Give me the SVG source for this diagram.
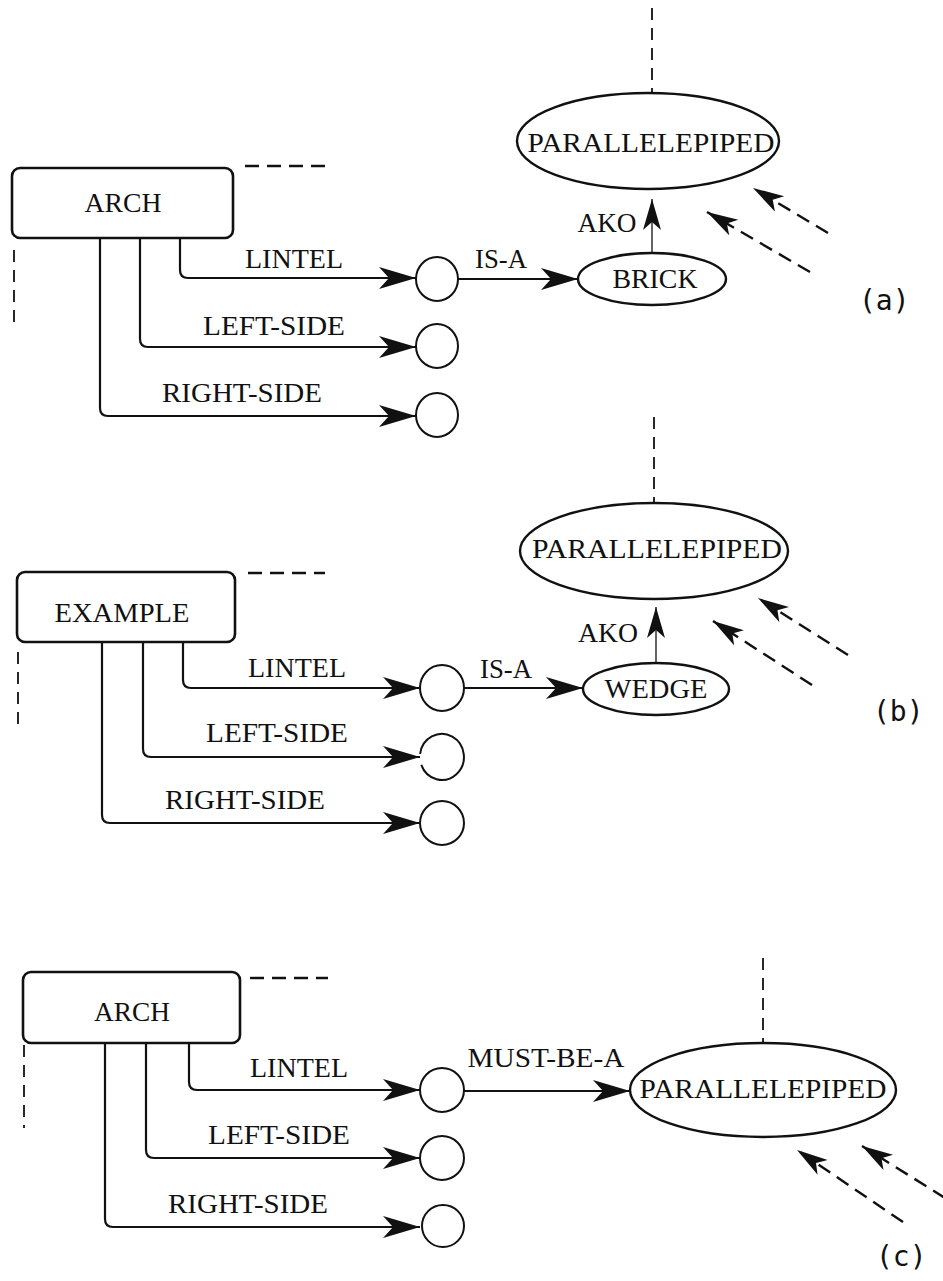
<svg xmlns="http://www.w3.org/2000/svg" width="943" height="1281" viewBox="0 0 943 1281">
<style>
.t{font-family:"Liberation Serif","Times New Roman",serif;font-size:27px;fill:#111;text-anchor:middle}
.lbl{font-family:"DejaVu Sans Mono","Liberation Mono",monospace;font-size:28px;fill:#111}
.box{fill:#fff;stroke:#111;stroke-width:2.6}
.ell{fill:#fff;stroke:#111;stroke-width:2.4}
.cir{fill:#fff;stroke:#111;stroke-width:2}
.con{fill:none;stroke:#111;stroke-width:2.2}
.thin{fill:none;stroke:#111;stroke-width:1.3}
.dash{fill:none;stroke:#111;stroke-width:2.4;stroke-dasharray:14 8}
.dashv{fill:none;stroke:#111;stroke-width:1.8;stroke-dasharray:12 8}
</style>
<defs>
<marker id="ah" markerWidth="40" markerHeight="24" refX="37" refY="11" orient="auto" markerUnits="userSpaceOnUse"><path d="M0,0 L37,11 L0,22 L10,11 Z" fill="#111"/></marker>
<marker id="ah2" markerWidth="34" markerHeight="22" refX="31" refY="9" orient="auto" markerUnits="userSpaceOnUse"><path d="M0,0 L31,9 L0,18 L8,9 Z" fill="#111"/></marker>
</defs>
<rect width="943" height="1281" fill="#fff"/>

<g id="connectors">
<!-- panel a -->
<line class="dash" x1="245" y1="166" x2="325" y2="166"/>
<line class="dashv" x1="14" y1="250" x2="14" y2="328"/>
<line class="dashv" x1="652" y1="8" x2="652" y2="92"/>
<path class="con" d="M180,238 V270 Q180,278 188,278 H416" marker-end="url(#ah)"/>
<path class="con" d="M140,238 V339 Q140,347 148,347 H416" marker-end="url(#ah)"/>
<path class="con" d="M100,238 V408 Q100,416 108,416 H416" marker-end="url(#ah)"/>
<line class="con" x1="458" y1="279" x2="578" y2="279" marker-end="url(#ah)"/>
<line class="thin" x1="652" y1="253" x2="652" y2="199" marker-end="url(#ah2)"/>
<line class="dash" x1="828" y1="233" x2="753" y2="188" marker-end="url(#ah2)"/>
<line class="dash" x1="810" y1="272" x2="707" y2="212" marker-end="url(#ah2)"/>
<!-- panel b -->
<line class="dash" x1="248" y1="573" x2="325" y2="573"/>
<line class="dashv" x1="18" y1="652" x2="18" y2="732"/>
<line class="dashv" x1="654" y1="417" x2="654" y2="503"/>
<path class="con" d="M183,642 V680 Q183,688 191,688 H420" marker-end="url(#ah)"/>
<path class="con" d="M143,642 V749 Q143,757 151,757 H420" marker-end="url(#ah)"/>
<path class="con" d="M102,642 V815 Q102,823 110,823 H420" marker-end="url(#ah)"/>
<line class="con" x1="464" y1="688" x2="583" y2="688" marker-end="url(#ah)"/>
<line class="thin" x1="656" y1="663" x2="656" y2="607" marker-end="url(#ah2)"/>
<line class="dash" x1="848" y1="655" x2="758" y2="598" marker-end="url(#ah2)"/>
<line class="dash" x1="812" y1="685" x2="713" y2="621" marker-end="url(#ah2)"/>
<!-- panel c -->
<line class="dash" x1="250" y1="978" x2="328" y2="978"/>
<line class="dashv" x1="24" y1="1045" x2="24" y2="1128"/>
<line class="dashv" x1="763" y1="958" x2="763" y2="1043"/>
<path class="con" d="M189,1043 V1082 Q189,1090 197,1090 H420" marker-end="url(#ah)"/>
<path class="con" d="M146,1043 V1150 Q146,1158 154,1158 H420" marker-end="url(#ah)"/>
<path class="con" d="M105,1043 V1219 Q105,1227 113,1227 H420" marker-end="url(#ah)"/>
<line class="con" x1="464" y1="1091" x2="630" y2="1091" marker-end="url(#ah)"/>
<line class="dash" x1="903" y1="1222" x2="797" y2="1150" marker-end="url(#ah2)"/>
<line class="dash" x1="945" y1="1198" x2="862" y2="1146" marker-end="url(#ah2)"/>
</g>

<g id="edge-labels">
<text class="t" x="294" y="268" textLength="98" lengthAdjust="spacingAndGlyphs">LINTEL</text>
<text class="t" x="274" y="335" textLength="142" lengthAdjust="spacingAndGlyphs">LEFT-SIDE</text>
<text class="t" x="242" y="402" textLength="160" lengthAdjust="spacingAndGlyphs">RIGHT-SIDE</text>
<text class="t" x="501" y="268" textLength="52" lengthAdjust="spacingAndGlyphs">IS-A</text>
<text class="t" x="607" y="232" textLength="59" lengthAdjust="spacingAndGlyphs">AKO</text>

<text class="t" x="297" y="677" textLength="98" lengthAdjust="spacingAndGlyphs">LINTEL</text>
<text class="t" x="277" y="742" textLength="142" lengthAdjust="spacingAndGlyphs">LEFT-SIDE</text>
<text class="t" x="245" y="809" textLength="160" lengthAdjust="spacingAndGlyphs">RIGHT-SIDE</text>
<text class="t" x="506" y="678" textLength="52" lengthAdjust="spacingAndGlyphs">IS-A</text>
<text class="t" x="608" y="642" textLength="60" lengthAdjust="spacingAndGlyphs">AKO</text>

<text class="t" x="299" y="1077" textLength="98" lengthAdjust="spacingAndGlyphs">LINTEL</text>
<text class="t" x="279" y="1144" textLength="142" lengthAdjust="spacingAndGlyphs">LEFT-SIDE</text>
<text class="t" x="248" y="1213" textLength="160" lengthAdjust="spacingAndGlyphs">RIGHT-SIDE</text>
<text class="t" x="546" y="1067" textLength="157" lengthAdjust="spacingAndGlyphs">MUST-BE-A</text>
</g>

<!-- panel a nodes -->
<g id="a-arch"><rect class="box" x="12" y="168" width="221" height="70" rx="8"/><text class="t" x="123" y="212" textLength="77" lengthAdjust="spacingAndGlyphs">ARCH</text></g>
<g id="a-c1"><ellipse class="cir" cx="437" cy="279" rx="21" ry="22"/></g>
<g id="a-c2"><ellipse class="cir" cx="437" cy="346" rx="21" ry="22"/></g>
<g id="a-c3"><ellipse class="cir" cx="437" cy="415" rx="21" ry="22"/></g>
<g id="a-brick"><ellipse class="ell" cx="652" cy="279" rx="74" ry="26"/><text class="t" x="655" y="288" textLength="85" lengthAdjust="spacingAndGlyphs">BRICK</text></g>
<g id="a-para"><ellipse class="ell" cx="648" cy="141" rx="131" ry="48"/><text class="t" x="651" y="152" textLength="247" lengthAdjust="spacingAndGlyphs">PARALLELEPIPED</text></g>
<text class="lbl" x="859" y="310">(a)</text>

<!-- panel b nodes -->
<g id="b-example"><rect class="box" x="17" y="572" width="218" height="70" rx="8"/><text class="t" x="122" y="622" textLength="135" lengthAdjust="spacingAndGlyphs">EXAMPLE</text></g>
<g id="b-c1"><ellipse class="cir" cx="442" cy="688" rx="22" ry="23"/></g>
<g id="b-c2"><path class="cir" d="M421.3,764.9 A22,23 0 1 0 420.1,754"/></g>
<g id="b-c3"><ellipse class="cir" cx="442" cy="823" rx="22" ry="22"/></g>
<g id="b-wedge"><ellipse class="ell" cx="656" cy="689" rx="73" ry="26"/><text class="t" x="656" y="698" textLength="103" lengthAdjust="spacingAndGlyphs">WEDGE</text></g>
<g id="b-para"><ellipse class="ell" cx="654" cy="551" rx="134" ry="48"/><text class="t" x="657" y="558" textLength="250" lengthAdjust="spacingAndGlyphs">PARALLELEPIPED</text></g>
<text class="lbl" x="873" y="721">(b)</text>

<!-- panel c nodes -->
<g id="c-arch"><rect class="box" x="23" y="972" width="217" height="71" rx="8"/><text class="t" x="132" y="1021" textLength="76" lengthAdjust="spacingAndGlyphs">ARCH</text></g>
<g id="c-c1"><ellipse class="cir" cx="442" cy="1090" rx="22" ry="22"/></g>
<g id="c-c2"><ellipse class="cir" cx="442" cy="1158" rx="22" ry="22"/></g>
<g id="c-c3"><ellipse class="cir" cx="443" cy="1226" rx="21" ry="21"/></g>
<g id="c-para"><ellipse class="ell" cx="763" cy="1090" rx="133" ry="47"/><text class="t" x="763" y="1098" textLength="247" lengthAdjust="spacingAndGlyphs">PARALLELEPIPED</text></g>
<text class="lbl" x="876" y="1266">(c)</text>
</svg>
